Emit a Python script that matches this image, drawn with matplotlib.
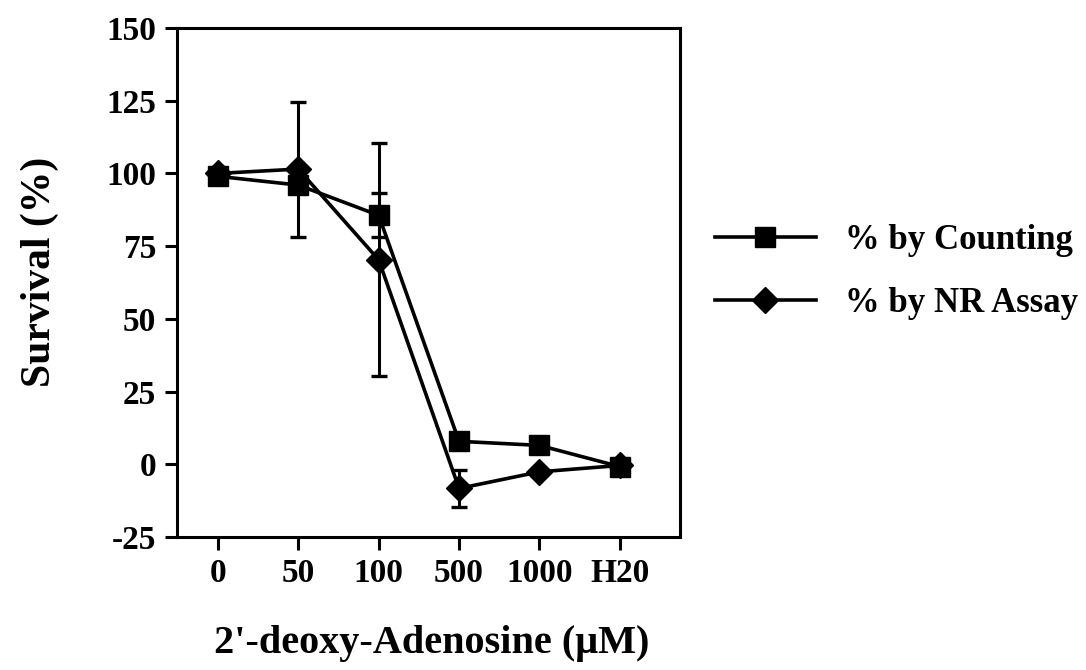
import numpy as np
import matplotlib
matplotlib.use("Agg")
import matplotlib.pyplot as plt

categories = ["0", "50", "100", "500", "1000", "H20"]
counting = [99, 96, 85.6, 7.9, 6.5, -0.8]
counting_err = [0, 0, 7.6, 0, 0, 0]
nr_assay = [100, 101.5, 70.3, -8.3, -2.6, -0.4]
nr_err = [0, 23.2, 40.1, 6.4, 0, 0]
yticks = [-25, 0, 25, 50, 75, 100, 125, 150]
ytick_labels = ["-25", "0", "25", "50", "75", "100", "125", "150"]

plt.rcParams['font.family'] = ['Liberation Serif', 'DejaVu Serif']
plt.rcParams['font.weight'] = 'bold'

fig = plt.figure(figsize=(10.86, 6.70), dpi=100)
ax = fig.add_axes([177/1086, 1-537/670, (680-177)/1086, (537-28)/670])

x = np.arange(len(categories))
lw = 2.6
ax.plot(x, counting, color='black', lw=lw, marker='s', ms=14.5, zorder=3,
        label='% by Counting')
ax.plot(x, nr_assay, color='black', lw=lw, marker='D', ms=13, zorder=3,
        label='% by NR Assay')

for vals, errs in ((counting, counting_err), (nr_assay, nr_err)):
    v = np.array(vals); e = np.array(errs)
    idx = np.where(e > 0)[0]
    ax.errorbar(x[idx], v[idx], yerr=e[idx], fmt='none', ecolor='black',
                elinewidth=2.2, capsize=6, capthick=2.4, zorder=2)

ax.set_xlim(-0.51, 5.75)
ax.set_ylim(-25, 150)
ax.set_xticks(x)
ax.set_xticklabels(categories)
ax.set_yticks(yticks)
ax.set_yticklabels(ytick_labels)
ax.tick_params(axis='both', direction='out', length=9, width=2.2,
               labelsize=24, pad=6)
for lab in ax.get_xticklabels() + ax.get_yticklabels():
    lab.set_fontweight('bold')
for s in ax.spines.values():
    s.set_linewidth(2.2)

fig.text(40/1086, 1-272/670, 'Survival (%)', rotation=90, ha='center',
         va='center', fontsize=30, fontweight='bold')
fig.text(432/1086, 1-643/670, "2'-deoxy-Adenosine (\u03bcM)", ha='center',
         va='center', fontsize=29, fontweight='bold')

leg = fig.legend(loc='center left', bbox_to_anchor=(715/1086, 1-272/670),
                 frameon=False, handlelength=2.9,
                 handletextpad=0.85, borderpad=0, borderaxespad=0,
                 labelspacing=0.85, prop={'weight': 'bold', 'size': 25})

fig.savefig('out.png', dpi=100)
